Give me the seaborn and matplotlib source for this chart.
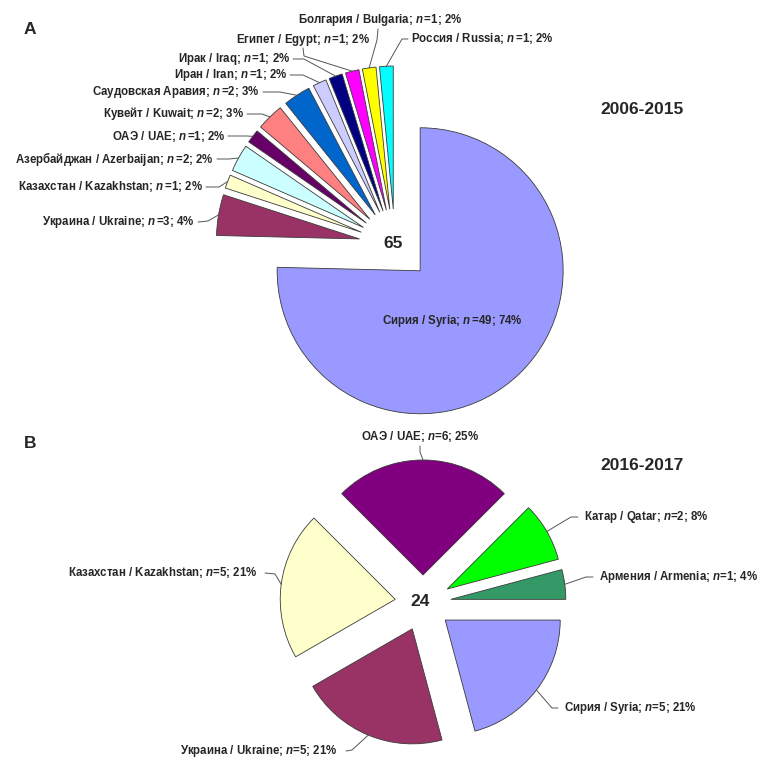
import numpy as np
import matplotlib
matplotlib.use("Agg")
import matplotlib.pyplot as plt
import seaborn as sns

# ---------------- data ----------------
# Panel A: 2006-2015
a_ru = ["Сирия", "Украина", "Казахстан", "Азербайджан", "ОАЭ", "Кувейт",
        "Саудовская Аравия", "Иран", "Ирак", "Египет", "Болгария", "Россия"]
a_en = ["Syria", "Ukraine", "Kazakhstan", "Azerbaijan", "UAE", "Kuwait",
        "", "Iran", "Iraq", "Egypt", "Bulgaria", "Russia"]
a_n = [49, 3, 1, 2, 1, 2, 2, 1, 1, 1, 1, 1]
a_pct = [74, 4, 2, 2, 2, 3, 3, 2, 2, 2, 2, 2]
a_colors = ["#9999FF", "#993366", "#FFFFCC", "#CCFFFF", "#660066", "#FF8080",
            "#0066CC", "#CCCCFF", "#000080", "#FF00FF", "#FFFF00", "#00FFFF"]
a_total = "65"
a_period = "2006-2015"

# Panel B: 2016-2017
b_ru = ["Армения", "Катар", "ОАЭ", "Казахстан", "Украина", "Сирия"]
b_en = ["Armenia", "Qatar", "UAE", "Kazakhstan", "Ukraine", "Syria"]
b_n = [1, 2, 6, 5, 5, 5]
b_pct = [4, 8, 25, 21, 21, 21]
b_colors = ["#339966", "#00FF00", "#800080", "#FFFFCC", "#993366", "#9999FF"]
b_total = "24"
b_period = "2016-2017"

# ---------------- style ----------------
sns.set_theme(style="white")
plt.rcParams["font.family"] = ["Liberation Sans", "DejaVu Sans"]
plt.rcParams["mathtext.fontset"] = "custom"
plt.rcParams["mathtext.it"] = "Liberation Sans:italic:bold"
plt.rcParams["mathtext.rm"] = "Liberation Sans:bold"
plt.rcParams["mathtext.bf"] = "Liberation Sans:bold"

W = 760
fig = plt.figure(figsize=(7.6, 7.6), dpi=100)
ax = fig.add_axes([0, 0, 1, 1])

LFS = 8.3


def Y(y):
    return W - y


def make_label(ru, en, n, p, space=False):
    name = f"{ru} / {en}" if en else ru
    nn = r"$n\,$" if space else "$n$"
    return f"{name}; {nn}={n}; {p}%"


def outer_mid(w):
    cx, cy = w.center
    t = np.deg2rad(0.5 * (w.theta1 + w.theta2))
    return cx + w.r * np.cos(t), cy + w.r * np.sin(t)


edge = dict(edgecolor="#3a3a3a", linewidth=0.6)

# ---------------- panel A ----------------
rA = 143
wA, _ = ax.pie(a_n, colors=a_colors, startangle=90, counterclock=False,
               center=(395, Y(245)), radius=rA, explode=[36] * len(a_n),
               wedgeprops=edge)

# label layout: (x, y, ha, va, leader start, elbow) in pixel coords
a_layout = [
    None,
    (195, 222, "right", "center", (198, 222), (208, 221)),
    (203, 187, "right", "center", (206, 187), (219, 187)),
    (214, 159, "right", "center", (217, 159), (229, 159)),
    (225, 136, "right", "center", (228, 136), (246, 136)),
    (244, 114, "right", "center", (247, 114), (262, 114)),
    (260, 92, "right", "center", (263, 92), (280, 92)),
    (287, 75, "right", "center", (290, 75), (303, 75)),
    (290, 59, "right", "center", (293, 59), (304, 59)),
    (370, 40, "right", "center", (303, 48), (304, 56)),
    (380, 20, "center", "center", (378, 29), (377, 40)),
    (411, 39, "left", "center", (408, 39), (402, 39)),
]
for i, w in enumerate(wA):
    lay = a_layout[i]
    if lay is None:
        continue
    x, y, ha, va, s, e = lay
    ax.text(x, Y(y), make_label(a_ru[i], a_en[i], a_n[i], a_pct[i], True),
            ha=ha, va=va, fontsize=LFS, fontweight="bold")
    ox, oy = outer_mid(w)
    ax.plot([s[0], e[0], ox], [Y(s[1]), Y(e[1]), oy], color="#555555", lw=0.7)

ax.text(452, Y(321), make_label(a_ru[0], a_en[0], a_n[0], a_pct[0], True),
        ha="center", va="center", fontsize=LFS, fontweight="bold")
ax.text(393, Y(243), a_total, ha="center", va="center", fontsize=12.5, fontweight="bold")
ax.text(642, Y(109), a_period, ha="center", va="center", fontsize=12.5, fontweight="bold")
ax.text(30, Y(30), "A", ha="center", va="center", fontsize=12.5, fontweight="bold")

# ---------------- panel B ----------------
rB = 115
wB, _ = ax.pie(b_n, colors=b_colors, startangle=0, counterclock=True,
               center=(423, Y(603)), radius=rB, explode=[28] * len(b_n),
               wedgeprops=edge)

b_layout = [
    (599, 577, "left", "center", (593, 577), (586, 577)),
    (584, 517, "left", "center", (578, 517), (571, 517)),
    (420, 437, "center", "center", (420, 446), (420, 452)),
    (258, 573, "right", "center", (265, 573), (275, 574)),
    (337, 751, "right", "center", (346, 751), (352, 750)),
    (564, 708, "left", "center", (558, 708), (552, 708)),
]
for i, w in enumerate(wB):
    x, y, ha, va, s, e = b_layout[i]
    ax.text(x, Y(y), make_label(b_ru[i], b_en[i], b_n[i], b_pct[i]),
            ha=ha, va=va, fontsize=LFS, fontweight="bold")
    ox, oy = outer_mid(w)
    ax.plot([s[0], e[0], ox], [Y(s[1]), Y(e[1]), oy], color="#555555", lw=0.7)

ax.text(420, Y(602), b_total, ha="center", va="center", fontsize=12.5, fontweight="bold")
ax.text(642, Y(466), b_period, ha="center", va="center", fontsize=12.5, fontweight="bold")
ax.text(30, Y(443), "B", ha="center", va="center", fontsize=12.5, fontweight="bold")

ax.set_xlim(0, W)
ax.set_ylim(0, W)
ax.set_aspect("equal")
ax.axis("off")

fig.savefig("out.png", dpi=100, facecolor="white")
